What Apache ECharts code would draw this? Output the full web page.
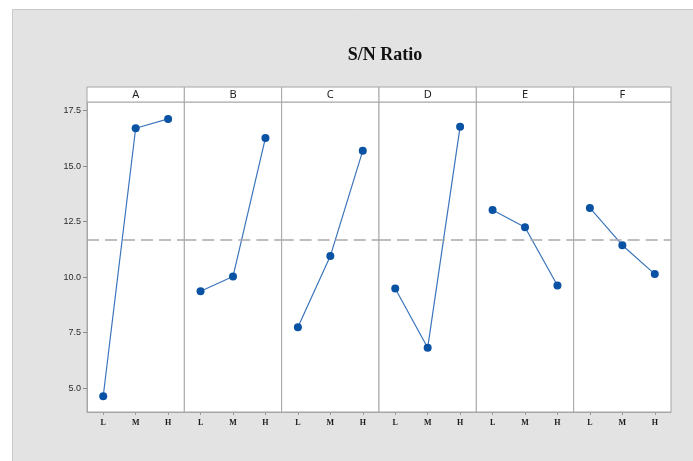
<!DOCTYPE html>
<html>
<head>
<meta charset="utf-8">
<script src="https://cdn.jsdelivr.net/npm/echarts@6/dist/echarts.min.js"></script>
<style>
  html, body { margin: 0; padding: 0; background: #ffffff; }
  #chart { width: 693px; height: 461px; }
</style>
</head>
<body>
<div id="chart"></div>
<script>
// Main effects plot for S/N ratios: one panel per factor, three levels each
const levels = ['L', 'M', 'H'];
const factors = ['A', 'B', 'C', 'D', 'E', 'F'];
const snA = [4.64, 16.71, 17.13];
const snB = [9.37, 10.03, 16.27];
const snC = [7.75, 10.95, 15.70];
const snD = [9.49, 6.82, 16.78];
const snE = [13.03, 12.25, 9.63];
const snF = [13.12, 11.44, 10.14];
const meanSN = 11.69;
const yTicks = [5, 7.5, 10, 12.5, 15, 17.5];
const yMin = 3.93;
const yMax = 17.89;

const factorValues = [snA, snB, snC, snD, snE, snF];

// panel layout
const plotLeft = 87, plotRight = 671, stripTop = 87, plotTop = 102, plotBottom = 412;
const panelW = (plotRight - plotLeft) / factors.length;
const frameColor = '#a6a6a6';

const grids = [], xAxes = [], yAxes = [], series = [], strips = [];

factors.forEach((name, i) => {
  const left = plotLeft + i * panelW;
  grids.push({
    left: left, top: plotTop, width: panelW, height: plotBottom - plotTop,
    show: true, backgroundColor: '#ffffff', borderColor: frameColor, borderWidth: 1
  });
  xAxes.push({
    type: 'category', gridIndex: i, data: levels, boundaryGap: true,
    axisLine: { show: true, lineStyle: { color: frameColor } },
    axisTick: { show: true, alignWithLabel: true, length: 3, lineStyle: { color: '#9a9a9a' } },
    axisLabel: { color: '#1a1a1a', fontFamily: 'Liberation Serif', fontWeight: 'bold', fontSize: 8, margin: 7 },
    splitLine: { show: false }
  });
  yAxes.push({
    type: 'value', gridIndex: i, min: yMin, max: yMax,
    show: i === 0,
    axisLine: { show: true, lineStyle: { color: frameColor } },
    axisTick: { show: true, length: 4, customValues: yTicks, lineStyle: { color: '#8a8a8a' } },
    axisLabel: {
      customValues: yTicks, color: '#2a2a2a', fontFamily: 'Liberation Sans', fontSize: 9, margin: 6,
      formatter: v => Number(v).toFixed(1)
    },
    splitLine: { show: false }
  });
  series.push({
    type: 'line', xAxisIndex: i, yAxisIndex: i, data: factorValues[i],
    symbol: 'circle', symbolSize: 8,
    itemStyle: { color: '#0a52a3' },
    lineStyle: { color: '#3a74bb', width: 1.2 },
    markLine: {
      silent: true, symbol: ['none', 'none'],
      label: { show: false },
      lineStyle: { color: '#a9a9a9', type: [12, 6], width: 1.6 },
      data: [{ yAxis: meanSN }]
    },
    z: 3
  });
  // factor header strip
  strips.push({
    type: 'rect',
    shape: { x: left, y: stripTop, width: panelW, height: plotTop - stripTop },
    style: { fill: '#ffffff', stroke: frameColor, lineWidth: 1 },
    z: 5
  });
  strips.push({
    type: 'text',
    x: left + panelW / 2, y: stripTop + (plotTop - stripTop) / 2,
    style: {
      text: name, fill: '#222222', font: '11px "Noto Sans"',
      textAlign: 'center', textVerticalAlign: 'middle'
    },
    z: 6
  });
});

const chart = echarts.init(document.getElementById('chart'), null, { renderer: 'canvas' });
chart.setOption({
  animation: false,
  backgroundColor: '#ffffff',
  title: {
    text: 'S/N Ratio', left: (plotLeft + plotRight) / 2 + 1, top: 41, textAlign: 'center',
    textStyle: { fontFamily: 'Liberation Serif', fontWeight: 'bold', fontSize: 18, color: '#111111' }
  },
  graphic: [
    {
      type: 'rect', shape: { x: 12.5, y: 9.5, width: 700, height: 470 },
      style: { fill: '#e3e3e3', stroke: '#c9c9c9', lineWidth: 1 }, z: -10, silent: true
    }
  ].concat(strips),
  grid: grids,
  xAxis: xAxes,
  yAxis: yAxes,
  series: series
});
</script>
</body>
</html>
